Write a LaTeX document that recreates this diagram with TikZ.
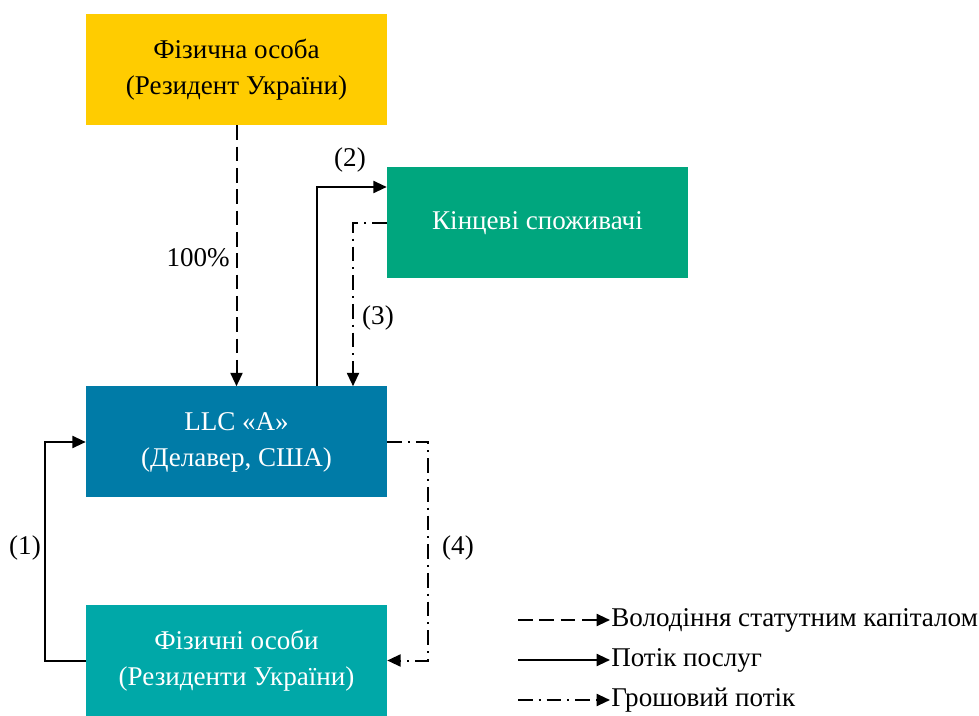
\documentclass[tikz,border=0pt]{standalone}
\usepackage{fontspec}
\setmainfont{Liberation Serif}
\usepackage{xcolor}
\usepackage{tikz}
\usetikzlibrary{arrows.meta,calc}

\definecolor{cYellow}{RGB}{255,204,0}
\definecolor{cGreen}{RGB}{0,166,126}
\definecolor{cBlue}{RGB}{0,123,167}
\definecolor{cTeal}{RGB}{0,168,168}

\tikzset{
  entbox/.style={minimum width=225.75pt,minimum height=83.25pt,inner sep=0pt,align=center,font=\fontsize{20.3}{27}\selectfont},
  lbl/.style={inner sep=0.75pt,font=\fontsize{20.3}{27}\selectfont},
  flow/.style={line width=1.5pt,-{Triangle[length=10pt,width=9pt]}},
  own/.style={flow,dash pattern=on 11pt off 5pt},
  cash/.style={flow,dash pattern=on 11pt off 4.5pt on 1.5pt off 4.5pt}
}

\begin{document}
\begin{tikzpicture}[x=0.75pt,y=0.75pt,yscale=-1,xscale=1]

\useasboundingbox (0,0) rectangle (979,716);

% boxes
\node (person) [entbox,fill=cYellow,text=black] at (236.5,69.5) {Фізична особа\\(Резидент України)};

\node (cons) [entbox,fill=cGreen,text=white] at (537.5,223) {Кінцеві споживачі};

\node (llc) [entbox,fill=cBlue,text=white] at (236.5,442) {LLC «A»\\(Делавер, США)};

\node (res) [entbox,fill=cTeal,text=white] at (236.5,660.5) {Фізичні особи\\(Резиденти України)};

% connectors
\draw [own] (person) -- (llc);

\draw [flow] ($(llc.north)+(80,0)$) |- ($(cons.west)+(0,-36)$);

\draw [cash] (cons.west) -| ($(llc.north)+(116.5,0)$);

\coordinate (c4) at ($(llc.east)+(41,0)$);
\draw [cash] (llc.east) -- (c4) |- (res.east);

\coordinate (c1) at ($(res.west)+(-41,0)$);
\draw [flow] (res.west) -- (c1) |- (llc.west);

% labels
\node (p100) [lbl,anchor=east] at (231,258) {100\%};

\node (n2) [lbl] at (350,160) {(2)};

\node (n3) [lbl] at (378,318) {(3)};

\node (n4) [lbl] at (458,548) {(4)};

\node (n1) [lbl] at (25,548) {(1)};

% legend
\coordinate (lg1) at (518,620);
\node (lt1) [lbl,anchor=west] at (610,620) {Володіння статутним капіталом};
\draw [own] (lg1) -- (lt1.west);

\coordinate (lg2) at (518,660);
\node (lt2) [lbl,anchor=west] at (610,660) {Потік послуг};
\draw [flow] (lg2) -- (lt2.west);

\coordinate (lg3) at (518,700);
\node (lt3) [lbl,anchor=west] at (610,700) {Грошовий потік};
\draw [cash] (lg3) -- (lt3.west);

\end{tikzpicture}
\end{document}
